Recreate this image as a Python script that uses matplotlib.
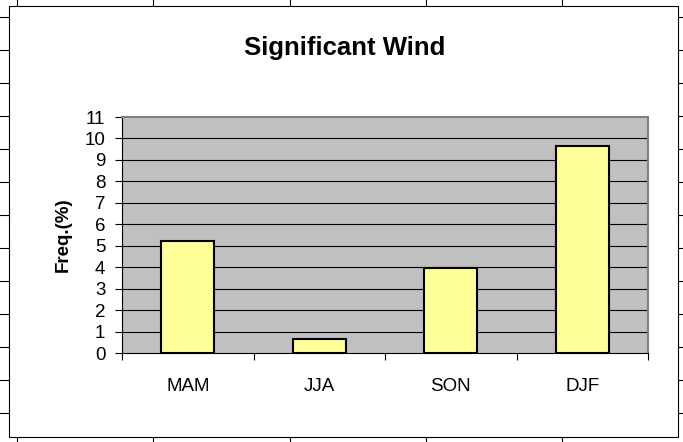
import matplotlib.pyplot as plt
import matplotlib.patches as mpatches
from matplotlib.lines import Line2D

seasons = ["MAM", "JJA", "SON", "DJF"]
freq = [5.2, 0.65, 3.95, 9.65]
y_ticks = list(range(0, 12))

plt.rcParams["font.family"] = ["Liberation Sans", "DejaVu Sans"]

W, H = 683, 442
fig = plt.figure(figsize=(W / 100, H / 100), dpi=100)


def fx(px):
    return px / W


def fy(py):
    return 1 - py / H


# spreadsheet cells behind the chart
for x in [17, 153, 290, 426, 562]:
    fig.add_artist(Line2D([fx(x), fx(x)], [0, 1], color="black", lw=0.8, zorder=0))
for y in range(17, 442, 33):
    fig.add_artist(Line2D([0, 1], [fy(y), fy(y)], color="black", lw=0.8, zorder=0))

# chart area
fig.add_artist(mpatches.Rectangle((fx(9), fy(437)), fx(678) - fx(9), fy(6) - fy(437),
                                  facecolor="white", edgecolor="black", lw=0.8,
                                  transform=fig.transFigure, zorder=1))

ax = fig.add_axes([fx(122), fy(353), fx(648) - fx(122), fy(117) - fy(353)])
ax.set_zorder(2)
ax.set_facecolor("#C0C0C0")
pos = list(range(len(seasons)))
ax.bar(pos, freq, width=0.4, color="#FFFF99", edgecolor="black", lw=1.5, zorder=3)
for v in y_ticks[1:-1]:
    ax.axhline(v, color="black", lw=0.8, zorder=2)
ax.set_xlim(-0.5, len(seasons) - 0.5)
ax.set_ylim(0, 11)
ax.set_yticks(y_ticks)
ax.set_yticklabels([str(v) for v in y_ticks], fontsize=13.5)
ax.set_xticks([p - 0.5 for p in pos] + [len(seasons) - 0.5])
ax.set_xticklabels([])
ax.set_xticks(pos, minor=True)
ax.set_xticklabels(seasons, minor=True, fontsize=13.5)
ax.tick_params(axis="x", which="minor", length=0, pad=18)
ax.tick_params(axis="x", which="major", length=5, color="black", width=0.8)
ax.tick_params(axis="y", length=5, width=0.8, pad=7)
for side in ["top", "right"]:
    ax.spines[side].set_color("#808080")
    ax.spines[side].set_linewidth(1.5)
ax.spines["left"].set_color("black")
ax.spines["bottom"].set_color("black")
ax.spines["left"].set_linewidth(0.8)
ax.spines["bottom"].set_linewidth(0.8)
ax.set_ylabel("Freq.(%)", fontsize=13.5, fontweight="bold")
ax.yaxis.set_label_coords((72 - 122) / 526, 0.5)

fig.text(fx(345), fy(48), "Significant Wind", ha="center", va="center",
         fontsize=18.5, fontweight="bold", zorder=3)

fig.savefig("out.png", dpi=100)
